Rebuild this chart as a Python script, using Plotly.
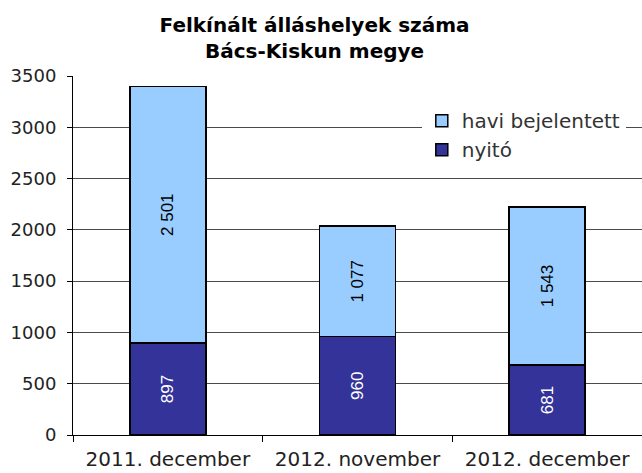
import plotly.graph_objects as go

categories = ["2011. december", "2012. november", "2012. december"]
nyito = [897, 960, 681]
havi = [2501, 1077, 1543]
nyito_labels = ["897", "960", "681"]
havi_labels = ["2 501", "1 077", "1 543"]
y_ticks = [0, 500, 1000, 1500, 2000, 2500, 3000, 3500]

fig = go.Figure()
fig.add_trace(go.Bar(
    x=categories, y=nyito, name="nyitó",
    marker=dict(color="#333399", line=dict(color="#000000", width=1.5)),
    text=nyito_labels, textposition="inside", insidetextanchor="middle",
    textangle=-90, textfont=dict(family="Liberation Sans, Arial", size=17, color="#ffffff"),
    width=0.4,
))
fig.add_trace(go.Bar(
    x=categories, y=havi, name="havi bejelentett",
    marker=dict(color="#99CCFF", line=dict(color="#000000", width=1.5)),
    text=havi_labels, textposition="inside", insidetextanchor="middle",
    textangle=-90, textfont=dict(family="Liberation Sans, Arial", size=17, color="#000000"),
    width=0.4,
))

fig.update_layout(
    width=642, height=473,
    barmode="stack",
    plot_bgcolor="#ffffff", paper_bgcolor="#ffffff",
    margin=dict(l=73, r=0, t=76, b=38),
    title=dict(
        text="<b>Felkínált álláshelyek száma<br>Bács-Kiskun megye</b>",
        x=0.49, xanchor="center", y=0.9315, yanchor="top",
        font=dict(family="DejaVu Sans", size=20, color="#000000"),
    ),
    font=dict(family="DejaVu Sans", size=18, color="#222222"),
    showlegend=True,
    legend=dict(
        x=0.613, y=0.93, xanchor="left", yanchor="top",
        bgcolor="#ffffff", traceorder="reversed",
        font=dict(family="DejaVu Sans", size=20, color="#333333"),
        itemwidth=30, tracegroupgap=0,
    ),
    uniformtext=dict(mode="show", minsize=10),
)
fig.update_yaxes(
    range=[0, 3500], tickvals=y_ticks, ticktext=[str(v) for v in y_ticks],
    showgrid=True, gridcolor="#4a4a4a", gridwidth=1,
    showline=True, linecolor="#000000", linewidth=1,
    ticks="outside", ticklen=5, tickcolor="#000000",
    tickfont=dict(family="DejaVu Sans", size=18, color="#222222"),
    zeroline=False, automargin=False, ticklabelstandoff=7,
)
fig.update_xaxes(
    showline=True, linecolor="#000000", linewidth=1,
    ticks="outside", ticklen=6, tickcolor="#000000", tickson="boundaries",
    tickfont=dict(family="DejaVu Sans", size=20, color="#222222"),
    automargin=False, ticklabelstandoff=6,
)

fig.write_html("out.html")
